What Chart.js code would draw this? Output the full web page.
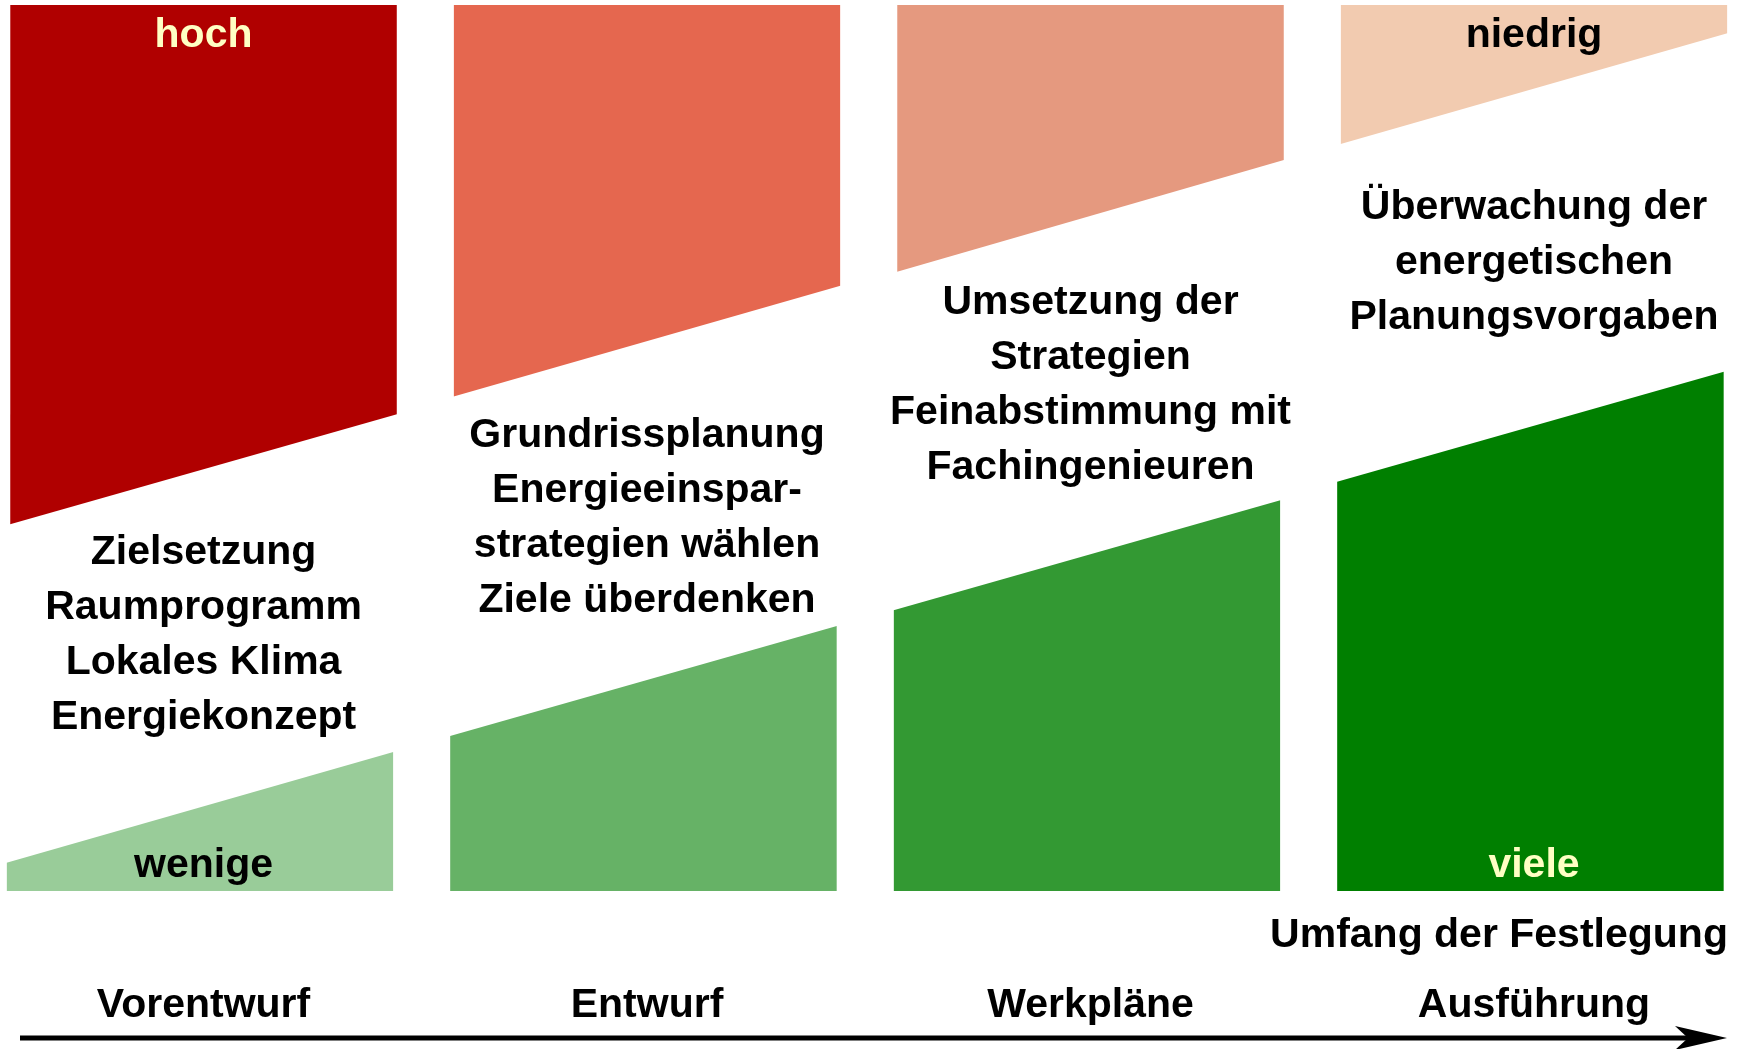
<!DOCTYPE html>
<html lang="de">
<head>
<meta charset="utf-8">
<title>Einfluss und Festlegung in den Planungsphasen</title>
<script src="https://cdn.jsdelivr.net/npm/chart.js@4/dist/chart.umd.min.js"></script>
<style>
  html, body { margin: 0; padding: 0; background: #fff; }
  #wrap { width: 1742px; height: 1049px; position: relative; }
</style>
</head>
<body>
<div id="wrap"><canvas id="grafica"></canvas></div>
<script>
// =============================================
// DATEN
// =============================================

// Planungsphasen (x-Achse)
const phasen = ["Vorentwurf", "Entwurf", "Werkpläne", "Ausführung"];

// Einflussmöglichkeit (rote Flächen): Unterkante links / rechts, Skala 0..100
const einflussStart = [41.4, 55.8, 69.9, 84.3];
const einflussEnde = [53.8, 68.3, 82.5, 96.8];

// Umfang der Festlegung (grüne Flächen): Oberkante links / rechts
const festlegungStart = [3.2, 17.5, 31.7, 46.2];
const festlegungEnde = [15.7, 29.9, 44.1, 58.6];

// Tätigkeiten je Phase
const taetigkeiten = [
  ["Zielsetzung", "Raumprogramm", "Lokales Klima", "Energiekonzept"],
  ["Grundrissplanung", "Energieeinspar-", "strategien wählen", "Ziele überdenken"],
  ["Umsetzung der", "Strategien", "Feinabstimmung mit", "Fachingenieuren"],
  ["Überwachung der", "energetischen", "Planungsvorgaben"]
];

// Skalenbeschriftung
const einflussLabels = ["hoch", "niedrig"];
const festlegungLabels = ["wenige", "viele"];
const festlegungTitel = "Umfang der Festlegung";

// =============================================
// DARSTELLUNG
// =============================================

const farbenRot = ["#b00000", "#e5674f", "#e5997f", "#f2cbb0"];
const farbenGruen = ["#99cc99", "#66b266", "#339933", "#007f00"];
const hellGelb = "#ffffc4";
const SCHRIFT = "bold 41px 'Liberation Sans', Arial, sans-serif";
const HALB = 0.436;       // halbe Flächenbreite in Phasen-Einheiten
const VERSATZ_GRUEN = -0.008;
const ERSTE_ZEILE = [564, 447, 314, 219]; // Grundlinie der ersten Textzeile je Spalte

function flaeche(i, start, ende, farbe, ziel, versatz) {
  return {
    data: [
      { x: i - HALB + versatz, y: start[i] },
      { x: i + HALB + versatz, y: ende[i] }
    ],
    backgroundColor: farbe,
    borderWidth: 0,
    pointRadius: 0,
    tension: 0,
    fill: { value: ziel }
  };
}

const datensaetze = [];
phasen.forEach((p, i) => {
  datensaetze.push(flaeche(i, einflussStart, einflussEnde, farbenRot[i], 100, 0));
  datensaetze.push(flaeche(i, festlegungStart, festlegungEnde, farbenGruen[i], 0, VERSATZ_GRUEN));
});

// Texte und Pfeil
const beschriftung = {
  id: "beschriftung",
  afterDatasetsDraw(chart) {
    const { ctx, chartArea } = chart;
    const x = chart.scales.x;
    const zeile = 55;
    ctx.save();
    ctx.font = SCHRIFT;
    ctx.textAlign = "center";
    ctx.textBaseline = "alphabetic";

    // Tätigkeiten zwischen roter und grüner Fläche
    ctx.fillStyle = "#000";
    taetigkeiten.forEach((zeilen, i) => {
      zeilen.forEach((t, k) => ctx.fillText(t, x.getPixelForValue(i), ERSTE_ZEILE[i] + k * zeile));
    });

    // hoch / niedrig
    ctx.fillStyle = hellGelb;
    ctx.fillText(einflussLabels[0], x.getPixelForValue(0), chartArea.top + 42);
    ctx.fillStyle = "#000";
    ctx.fillText(einflussLabels[1], x.getPixelForValue(3), chartArea.top + 42);

    // wenige / viele
    ctx.fillText(festlegungLabels[0], x.getPixelForValue(0), chartArea.bottom - 14);
    ctx.fillStyle = hellGelb;
    ctx.fillText(festlegungLabels[1], x.getPixelForValue(3), chartArea.bottom - 14);

    // Umfang der Festlegung
    ctx.fillStyle = "#000";
    ctx.fillText(festlegungTitel, x.getPixelForValue(3) - 35, chartArea.bottom + 56);

    // Phasen
    phasen.forEach((p, i) => ctx.fillText(p, x.getPixelForValue(i), chartArea.bottom + 126));

    // Zeitpfeil
    const py = chartArea.bottom + 147;
    ctx.strokeStyle = "#000";
    ctx.lineWidth = 5;
    ctx.beginPath();
    ctx.moveTo(20, py);
    ctx.lineTo(1690, py);
    ctx.stroke();
    ctx.beginPath();
    ctx.moveTo(1727, py);
    ctx.lineTo(1675, py - 12);
    ctx.lineTo(1688, py);
    ctx.lineTo(1675, py + 12);
    ctx.closePath();
    ctx.fillStyle = "#000";
    ctx.fill();
    ctx.restore();
  }
};

// =============================================
// GRAFIK
// =============================================

document.addEventListener("DOMContentLoaded", function () {
  const ctx = document.getElementById("grafica").getContext("2d");
  new Chart(ctx, {
    type: "line",
    data: { datasets: datensaetze },
    options: {
      responsive: true,
      maintainAspectRatio: false,
      animation: false,
      layout: { padding: { top: 5, bottom: 158, left: 0, right: 0 } },
      plugins: {
        legend: { display: false },
        tooltip: { enabled: false },
        filler: { propagate: false }
      },
      scales: {
        x: { type: "linear", min: -0.4589, max: 3.469, display: false },
        y: { type: "linear", min: 0, max: 100, display: false }
      }
    },
    plugins: [beschriftung]
  });
});
</script>
</body>
</html>
